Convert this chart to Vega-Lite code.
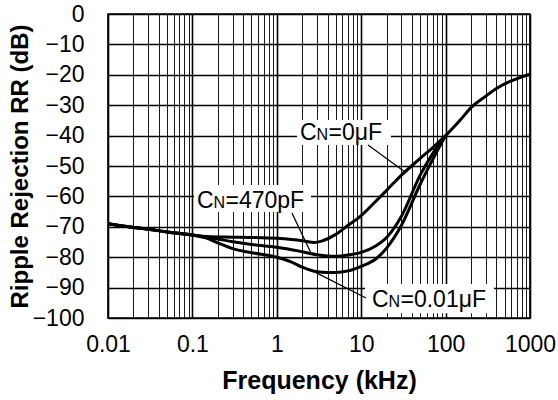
{
  "$schema": "https://vega.github.io/schema/vega-lite/v6.json",
  "width": 422,
  "height": 304,
  "autosize": {"type": "none"},
  "padding": {"left": 108, "top": 14, "right": 28, "bottom": 82},
  "background": "white",
  "config": {
    "font": "Liberation Sans",
    "view": {"stroke": "black", "strokeWidth": 1.6}
  },
  "datasets": {
    "curves": [
      {"s": "0uF", "f": 0.01, "db": -69}, {"s": "0uF", "f": 0.02, "db": -70.2}, {"s": "0uF", "f": 0.03, "db": -70.8}, {"s": "0uF", "f": 0.05, "db": -71.7}, {"s": "0uF", "f": 0.1, "db": -72.7}, {"s": "0uF", "f": 0.15, "db": -73.2}, {"s": "0uF", "f": 0.3, "db": -73.4}, {"s": "0uF", "f": 0.5, "db": -73.5}, {"s": "0uF", "f": 1, "db": -73.8}, {"s": "0uF", "f": 1.5, "db": -74.2}, {"s": "0uF", "f": 2, "db": -74.6}, {"s": "0uF", "f": 2.8, "db": -75.2}, {"s": "0uF", "f": 3.5, "db": -74.6}, {"s": "0uF", "f": 5, "db": -72.5}, {"s": "0uF", "f": 7, "db": -69.5}, {"s": "0uF", "f": 10, "db": -66.3}, {"s": "0uF", "f": 15, "db": -61.5}, {"s": "0uF", "f": 20, "db": -58}, {"s": "0uF", "f": 30, "db": -53}, {"s": "0uF", "f": 50, "db": -47.5}, {"s": "0uF", "f": 70, "db": -44}, {"s": "0uF", "f": 100, "db": -40}, {"s": "0uF", "f": 150, "db": -34.8}, {"s": "0uF", "f": 200, "db": -30.8}, {"s": "0uF", "f": 300, "db": -27}, {"s": "0uF", "f": 400, "db": -24.5}, {"s": "0uF", "f": 600, "db": -22}, {"s": "0uF", "f": 800, "db": -20.7}, {"s": "0uF", "f": 1000, "db": -19.8},
      {"s": "470pF", "f": 0.01, "db": -69}, {"s": "470pF", "f": 0.02, "db": -70.2}, {"s": "470pF", "f": 0.03, "db": -70.8}, {"s": "470pF", "f": 0.05, "db": -71.7}, {"s": "470pF", "f": 0.1, "db": -72.7}, {"s": "470pF", "f": 0.15, "db": -73.4}, {"s": "470pF", "f": 0.2, "db": -74}, {"s": "470pF", "f": 0.3, "db": -74.9}, {"s": "470pF", "f": 0.5, "db": -75.8}, {"s": "470pF", "f": 1, "db": -76.7}, {"s": "470pF", "f": 2, "db": -78.2}, {"s": "470pF", "f": 3, "db": -79.2}, {"s": "470pF", "f": 4, "db": -79.6}, {"s": "470pF", "f": 5, "db": -79.7}, {"s": "470pF", "f": 7, "db": -79.3}, {"s": "470pF", "f": 10, "db": -78.4}, {"s": "470pF", "f": 15, "db": -76.2}, {"s": "470pF", "f": 20, "db": -73.5}, {"s": "470pF", "f": 30, "db": -66.5}, {"s": "470pF", "f": 50, "db": -53}, {"s": "470pF", "f": 70, "db": -46}, {"s": "470pF", "f": 100, "db": -40},
      {"s": "0.01uF", "f": 0.01, "db": -69}, {"s": "0.01uF", "f": 0.02, "db": -70.2}, {"s": "0.01uF", "f": 0.03, "db": -70.8}, {"s": "0.01uF", "f": 0.05, "db": -71.7}, {"s": "0.01uF", "f": 0.1, "db": -72.7}, {"s": "0.01uF", "f": 0.15, "db": -73.8}, {"s": "0.01uF", "f": 0.2, "db": -75.3}, {"s": "0.01uF", "f": 0.3, "db": -77.2}, {"s": "0.01uF", "f": 0.5, "db": -78.5}, {"s": "0.01uF", "f": 1, "db": -80}, {"s": "0.01uF", "f": 1.5, "db": -81.6}, {"s": "0.01uF", "f": 2, "db": -83.3}, {"s": "0.01uF", "f": 3, "db": -84.8}, {"s": "0.01uF", "f": 4, "db": -85}, {"s": "0.01uF", "f": 5, "db": -85}, {"s": "0.01uF", "f": 7, "db": -84.5}, {"s": "0.01uF", "f": 10, "db": -83}, {"s": "0.01uF", "f": 15, "db": -80.5}, {"s": "0.01uF", "f": 20, "db": -77}, {"s": "0.01uF", "f": 30, "db": -69.5}, {"s": "0.01uF", "f": 50, "db": -56}, {"s": "0.01uF", "f": 70, "db": -48}, {"s": "0.01uF", "f": 100, "db": -40}
    ],
    "boxes": [
      {"f": 1.735, "f2": 22.5, "db": -34.9, "db2": -43.1},
      {"f": 0.1045, "f2": 2.54, "db": -56.25, "db2": -65.1},
      {"f": 11.09, "f2": 374, "db": -88.8, "db2": -98.4}
    ],
    "callouts": [
      {"f": 12.05, "db": -43.1, "f2": 33.0, "db2": -52.0},
      {"f": 1.514, "db": -65.5, "f2": 2.54, "db2": -78.6},
      {"f": 2.835, "db": -84.9, "f2": 11.4, "db2": -93.4}
    ],
    "labels": [
      {"c": "C", "n": "N", "rest": "=0μF", "f": 1.884, "db": -41.45},
      {"c": "C", "n": "N", "rest": "=470pF", "f": 0.1134, "db": -63.8},
      {"c": "C", "n": "N", "rest": "=0.01μF", "f": 13.43, "db": -96.4}
    ]
  },
  "encoding": {
    "x": {
      "field": "f", "type": "quantitative",
      "scale": {"type": "log", "domain": [0.01, 1000], "nice": false},
      "axis": {
        "title": "Frequency (kHz)",
        "values": [0.01,0.02,0.03,0.04,0.05,0.06,0.07,0.08,0.09,0.1,0.2,0.3,0.4,0.5,0.6,0.7,0.8,0.9,1,2,3,4,5,6,7,8,9,10,20,30,40,50,60,70,80,90,100,200,300,400,500,600,700,800,900,1000],
        "format": "~g",
        "labelExpr": "indexof([0.01,0.1,1,10,100,1000], datum.value) >= 0 ? datum.label : ''",
        "labelOverlap": false,
        "labelFlush": false,
        "labelBound": false,
        "labelFontSize": 23,
        "labelColor": "black",
        "labelPadding": 15,
        "ticks": false,
        "domain": false,
        "grid": true,
        "gridColor": "black",
        "gridOpacity": 1,
        "gridWidth": {"condition": {"test": "indexof([0.01,0.1,1,10,100,1000], datum.value) >= 0", "value": 1.6}, "value": 0.9},
        "titleFontSize": 25,
        "titleFontWeight": "bold",
        "titleColor": "black",
        "titlePadding": 12
      }
    },
    "y": {
      "field": "db", "type": "quantitative",
      "scale": {"domain": [-100, 0], "nice": false},
      "axis": {
        "title": "Ripple Rejection RR (dB)",
        "values": [-100,-90,-80,-70,-60,-50,-40,-30,-20,-10,0],
        "labelFontSize": 23,
        "labelColor": "black",
        "labelPadding": 24,
        "ticks": false,
        "domain": false,
        "grid": true,
        "gridColor": "black",
        "gridOpacity": 1,
        "gridWidth": 1.3,
        "titleFontSize": 24,
        "titleFontWeight": "bold",
        "titleColor": "black",
        "titlePadding": 0
      }
    }
  },
  "layer": [
    {
      "data": {"name": "boxes"},
      "mark": {"type": "rect", "fill": "white"},
      "encoding": {
        "x2": {"field": "f2"},
        "y2": {"field": "db2"}
      }
    },
    {
      "data": {"name": "callouts"},
      "mark": {"type": "rule", "stroke": "black", "strokeWidth": 1.2},
      "encoding": {
        "x2": {"field": "f2"},
        "y2": {"field": "db2"}
      }
    },
    {
      "data": {"name": "curves"},
      "mark": {"type": "line", "stroke": "black", "strokeWidth": 3, "interpolate": "monotone"},
      "encoding": {
        "detail": {"field": "s"}
      }
    },
    {
      "data": {"name": "labels"},
      "mark": {"type": "text", "align": "left", "baseline": "alphabetic", "fontSize": 23, "color": "black"},
      "encoding": {
        "text": {"field": "c"}
      }
    },
    {
      "data": {"name": "labels"},
      "mark": {"type": "text", "align": "left", "baseline": "alphabetic", "fontSize": 16, "dx": 16.6, "color": "black"},
      "encoding": {
        "text": {"field": "n"}
      }
    },
    {
      "data": {"name": "labels"},
      "mark": {"type": "text", "align": "left", "baseline": "alphabetic", "fontSize": 23, "dx": 28.5, "color": "black"},
      "encoding": {
        "text": {"field": "rest"}
      }
    }
  ]
}
